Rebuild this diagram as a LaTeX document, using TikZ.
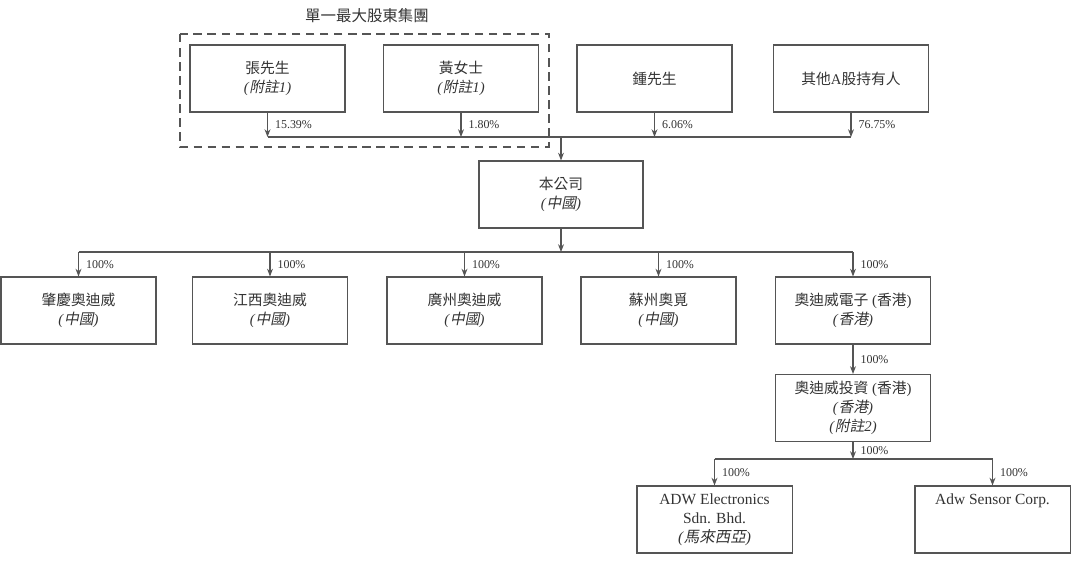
\documentclass[tikz,border=0pt]{standalone}
\usepackage{fontspec}
\usepackage{tikz}
\usetikzlibrary{arrows.meta}
\setmainfont{Liberation Serif}
\newfontfamily\zh{Noto Sans CJK TC}
\newfontfamily\zhit{Noto Sans CJK TC}[FakeSlant=0.2]
\definecolor{linegray}{HTML}{555555}
\definecolor{txtgray}{HTML}{333333}
\newcommand{\fuzhu}[1]{\textit{(}{\zhit 附註}\textit{#1)}} %附註
\newcommand{\diqu}[1]{\textit{(}{\zhit #1}\textit{)}} %地區

\tikzset{
 box/.style={draw=linegray, line width=0.75pt, minimum width=3.875cm, minimum height=1.675cm,
  inner sep=0pt, align=center, text=txtgray, font=\fontsize{10.5}{13.5}\selectfont},
 pct/.style={anchor=west, inner sep=0pt, xshift=5pt, text=txtgray,
  font=\fontsize{8.5}{10}\selectfont},
 link/.style={draw=linegray, line width=0.75pt},
 arr/.style={link, ->, >={Stealth[length=5.5pt,width=4.2pt]}}
}

\begin{document}
\begin{tikzpicture}[x=0.025cm, y=-0.025cm]
 \useasboundingbox (0,0) rectangle (1080,567); %画面
 % 股東
 \node[box] (zhang) at (267.5,78.5) {{\zh 張先生}\\\fuzhu{1}};
 \node[box] (huang) at (461,78.5) {{\zh 黃女士}\\\fuzhu{1}};
 \node[box] (zhong) at (654.5,78.5) {{\zh 鍾先生}};
 \node[box] (other) at (851,78.5) {{\zh 其他}A{\zh 股持有人}};
 \draw[linegray, line width=0.75pt, dash pattern=on 6pt off 4pt] (180,34) rectangle (549,147); %集團
 \node[text=txtgray, font=\fontsize{11}{13}\selectfont] (group) at (367,16) {{\zh 單一最大股東集團}};
 \coordinate (busA) at (0,137); %股東の線
 % 本公司
 \node[box, minimum width=4.1cm] (company) at (561,194.5) {{\zh 本公司}\\\diqu{中國}};
 \coordinate (busB) at (0,252); %子会社の線
 % 子会社
 \node[box] (zhaoqing) at (78.5,310.5) {{\zh 肇慶奧迪威}\\\diqu{中國}};
 \node[box] (jiangxi) at (270,310.5) {{\zh 江西奧迪威}\\\diqu{中國}};
 \node[box] (guangzhou) at (464.5,310.5) {{\zh 廣州奧迪威}\\\diqu{中國}};
 \node[box] (suzhou) at (658.5,310.5) {{\zh 蘇州奧覓}\\\diqu{中國}};
 \node[box] (hkelec) at (853,310.5) {{\zh 奧迪威電子} ({\zh 香港})\\\diqu{香港}};
 \node[box] (hkinv) at (853,408) {{\zh 奧迪威投資} ({\zh 香港})\\\diqu{香港}\\\fuzhu{2}};
 \coordinate (busC) at (0,459); %海外の線
 \node[box, font=\fontsize{11}{13.5}\selectfont] (adw) at (714.5,519.5) {ADW Electronics\\Sdn. Bhd.\\\diqu{馬來西亞}};
 \node[box, font=\fontsize{11}{13.5}\selectfont] (sensor) at (992.5,519.5) {Adw Sensor Corp.\\\phantom{Sdn. Bhd.}\\\phantom{\diqu{馬來西亞}}};

 % 股東 -> 本公司
 \draw[arr] (zhang.south) -- (zhang.south |- busA) node[pct, midway] {15.39\%};
 \draw[arr] (huang.south) -- (huang.south |- busA) node[pct, midway] {1.80\%};
 \draw[arr] (zhong.south) -- (zhong.south |- busA) node[pct, midway] {6.06\%};
 \draw[arr] (other.south) -- (other.south |- busA) node[pct, midway] {76.75\%};
 \draw[link] (zhang.south |- busA) -- (other.south |- busA);
 \draw[arr] (company.north |- busA) -- (company.north);

 % 本公司 -> 子会社
 \draw[arr] (company.south) -- (company.south |- busB);
 \draw[link] (zhaoqing.north |- busB) -- (hkelec.north |- busB);
 \foreach \sub in {zhaoqing,jiangxi,guangzhou,suzhou,hkelec}
  \draw[arr] (\sub.north |- busB) -- (\sub.north) node[pct, midway] {100\%};
 \draw[arr] (hkelec.south) -- (hkinv.north) node[pct, midway] {100\%};

 % 奧迪威投資 -> 海外
 \draw[arr] (hkinv.south) -- (hkinv.south |- busC) node[pct, midway] {100\%};
 \draw[link] (adw.north |- busC) -- (sensor.north |- busC);
 \draw[arr] (adw.north |- busC) -- (adw.north) node[pct, midway] {100\%};
 \draw[arr] (sensor.north |- busC) -- (sensor.north) node[pct, midway] {100\%};
\end{tikzpicture}
\end{document}
